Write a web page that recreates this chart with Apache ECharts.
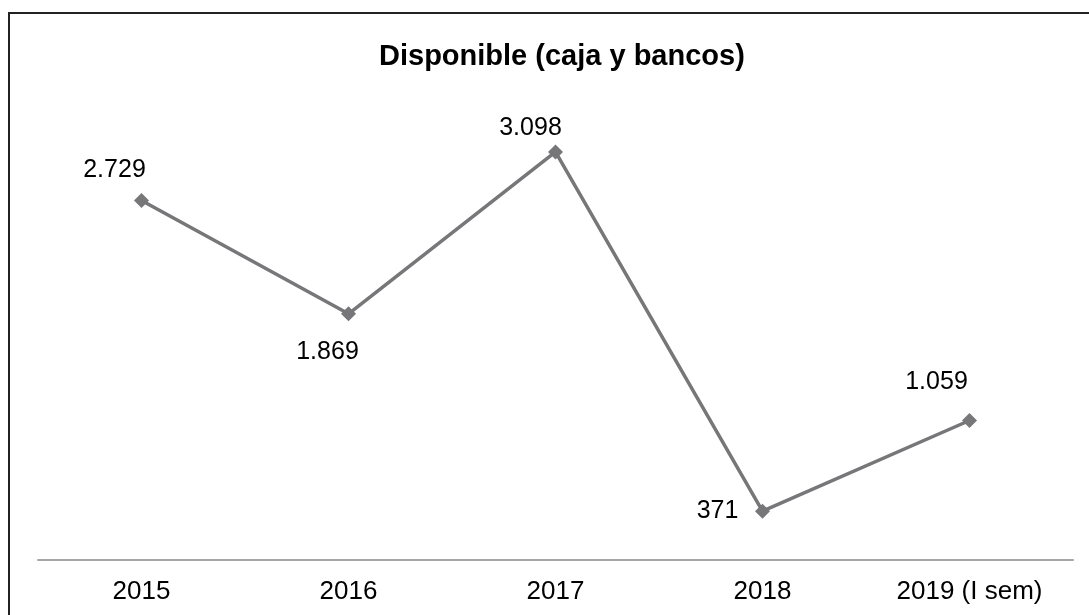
<!DOCTYPE html>
<html>
<head>
<meta charset="utf-8">
<script src="https://cdn.jsdelivr.net/npm/echarts@6/dist/echarts.min.js"></script>
<style>
  html, body { margin: 0; padding: 0; background: #fff; }
  #chart { width: 1089px; height: 615px; }
</style>
</head>
<body>
<div id="chart"></div>
<script>
const categories = ['2015', '2016', '2017', '2018', '2019 (I sem)'];
const disponible = [2729, 1869, 3098, 371, 1059];
// label offset from each marker centre: [dx, dy]
const labelOffsets = [
  [-27, -30],
  [-21, 38],
  [-25, -24],
  [-45, 0],
  [-33, -38]
];

function fmt(v) {
  return String(v).replace(/\B(?=(\d{3})+(?!\d))/g, '.');
}

const FONT = 'Liberation Sans, Arial, sans-serif';
const chart = echarts.init(document.getElementById('chart'));
chart.setOption({
  animation: false,
  backgroundColor: '#ffffff',
  title: {
    text: 'Disponible (caja y bancos)',
    left: 374,
    top: 37,
    textStyle: { fontFamily: FONT, fontWeight: 'bold', fontSize: 29, color: '#000' }
  },
  graphic: [{
    type: 'rect',
    shape: { x: 9, y: 13, width: 1200, height: 800 },
    style: { fill: 'none', stroke: '#222', lineWidth: 2 },
    silent: true
  }],
  grid: { left: 38, right: 16, top: 99, bottom: 55 },
  xAxis: {
    type: 'category',
    data: categories,
    boundaryGap: true,
    axisLine: { lineStyle: { color: '#a6a6a6', width: 2 } },
    axisTick: { show: false },
    axisLabel: { color: '#000', fontSize: 26, margin: 19, fontFamily: FONT }
  },
  yAxis: {
    type: 'value',
    min: 0,
    max: 3500,
    interval: 500,
    show: false,
    splitLine: { show: false }
  },
  series: [{
    type: 'line',
    data: disponible.map((v, i) => ({
      value: v,
      label: { offset: labelOffsets[i] }
    })),
    symbol: 'diamond',
    symbolSize: 15,
    itemStyle: { color: '#77777a' },
    lineStyle: { color: '#77777a', width: 3.5 },
    label: {
      show: true,
      position: 'inside',
      color: '#000',
      fontSize: 25,
      fontFamily: FONT,
      formatter: p => fmt(p.value)
    }
  }]
});
</script>
</body>
</html>
